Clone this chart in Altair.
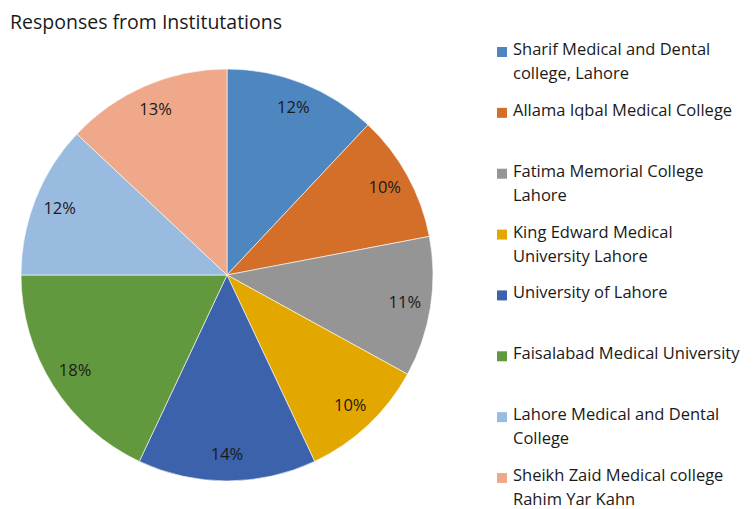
import altair as alt
import pandas as pd

title = "Responses from Institutations"
institutions = [
    "Sharif Medical and Dental college, Lahore",
    "Allama Iqbal Medical College",
    "Fatima Memorial College Lahore",
    "King Edward Medical University Lahore",
    "University of Lahore",
    "Faisalabad Medical University",
    "Lahore Medical and Dental College",
    "Sheikh Zaid Medical college Rahim Yar Kahn",
]
legend_lines = [
    ["Sharif Medical and Dental", "college, Lahore"],
    ["Allama Iqbal Medical College"],
    ["Fatima Memorial College", "Lahore"],
    ["King Edward Medical", "University Lahore"],
    ["University of Lahore"],
    ["Faisalabad Medical University"],
    ["Lahore Medical and Dental", "College"],
    ["Sheikh Zaid Medical college", "Rahim Yar Kahn"],
]
percent = [12, 10, 11, 10, 14, 18, 12, 13]
colors = ["#4E87BF", "#D46F2A", "#959595", "#E3A800",
          "#3C62AB", "#62993E", "#9ABBE0", "#EFA88A"]

df = pd.DataFrame({
    "Institution": institutions,
    "Percent": percent,
    "Order": list(range(len(institutions))),
    "Label": [f"{p}%" for p in percent],
    "Legend": ["\n".join(l) for l in legend_lines],
})

FONT = "Open Sans"
TXT = "#1a1a1a"
color = alt.Color("Institution:N", sort=institutions,
                  scale=alt.Scale(domain=institutions, range=colors), legend=None)
theta = alt.Theta("Percent:Q", stack=True)
order = alt.Order("Order:Q")
cx, cy = 219, 267

base = alt.Chart(df)

pie = base.mark_arc(outerRadius=206, stroke="#ffffff", strokeWidth=0.6).encode(
    theta=theta, color=color, order=order,
    x=alt.value(cx), y=alt.value(cy),
)

labels = base.mark_text(radius=180, font=FONT, fontSize=16.5, color=TXT).encode(
    theta=theta, order=order, text="Label:N",
    x=alt.value(cx), y=alt.value(cy),
)

yscale = alt.Scale(type="point", domain=institutions, range=[44, 470], padding=0)

leg_sq = base.mark_square(size=100, opacity=1).encode(
    y=alt.Y("Institution:N", scale=yscale, axis=None),
    x=alt.value(494),
    color=color,
)

leg_txt = base.mark_text(align="left", baseline="top", dy=-10, font=FONT,
                         fontSize=16.5, lineBreak="\n", lineHeight=24,
                         color=TXT).encode(
    y=alt.Y("Institution:N", scale=yscale, axis=None),
    x=alt.value(505),
    text="Legend:N",
)

title_mark = alt.Chart(pd.DataFrame({"t": [title]})).mark_text(
    align="left", baseline="alphabetic", font=FONT, fontSize=19.5, color=TXT
).encode(text="t:N", x=alt.value(2), y=alt.value(21))

chart = alt.layer(pie, labels, leg_sq, leg_txt, title_mark).properties(
    width=739, height=501,
    autosize=alt.AutoSizeParams(type="none"),
    padding=0,
).configure_view(stroke=None)

chart.save("out.html", embed_options={"renderer": "svg", "actions": False})
